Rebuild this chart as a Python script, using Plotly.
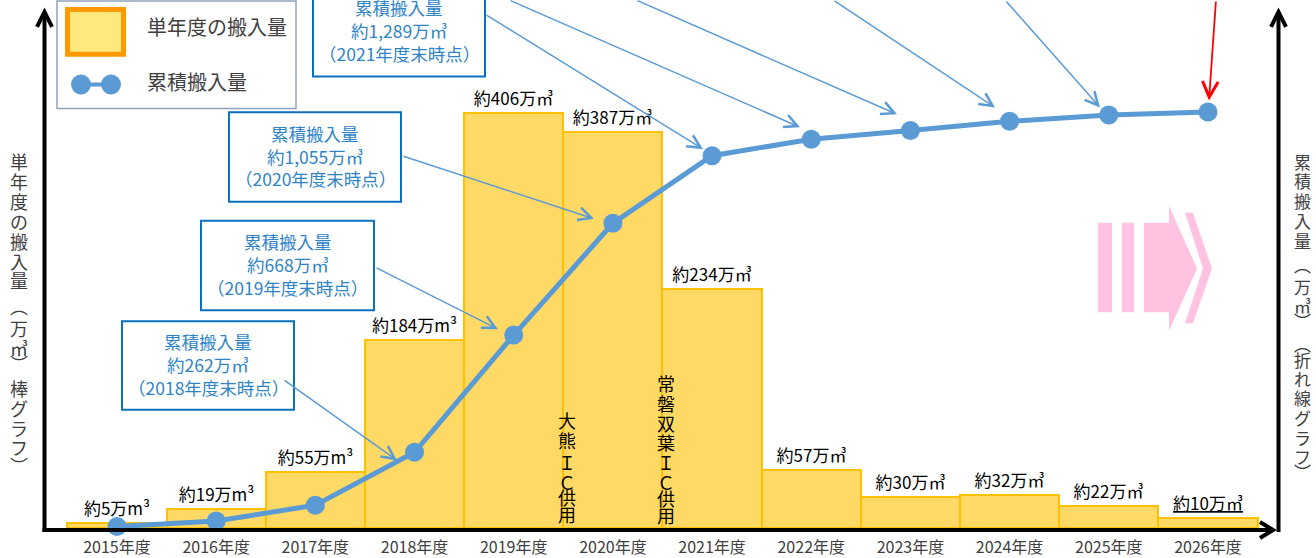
import plotly.graph_objects as go

# ---------------- data ----------------
years = ["2015年度", "2016年度", "2017年度", "2018年度", "2019年度", "2020年度",
         "2021年度", "2022年度", "2023年度", "2024年度", "2025年度", "2026年度"]
annual = [5, 19, 55, 184, 406, 387, 234, 57, 30, 32, 22, 10]
cumulative = [5, 24, 79, 262, 668, 1055, 1289, 1346, 1376, 1408, 1430, 1440]
bar_labels = ["約5万m³", "約19万m³", "約55万m³", "約184万m³", "約406万㎥", "約387万㎥",
              "約234万㎥", "約57万㎥", "約30万㎥", "約32万㎥", "約22万㎥", "<u>約10万㎥</u>"]
box_values = ["約262万㎥", "約668万㎥", "約1,055万㎥", "約1,289万㎥"]
box_years = ["2018", "2019", "2020", "2021"]
legend_bar = "単年度の搬入量"
legend_line = "累積搬入量"
left_title = list("単年度の搬入量") + ["︵", "万", "㎥", "︶", "棒", "グ", "ラ", "フ", "︶"]
right_title = list("累積搬入量") + ["︵", "万", "㎥", "︶", "︵", "折", "れ", "線", "グ", "ラ", "フ", "︶"]
ic1 = list("大熊ＩＣ供用")
ic2 = list("常磐双葉ＩＣ供用")

FONT = "Noto Sans CJK JP"
W, H = 1316, 558
L, R, T, B = 44, 38, 0, 27
PW, PH = W - L - R, H - T - B


def px(x):
    return (x - L) / PW


def py(y):
    return (H - B - y) / PH


fig = go.Figure()
fig.add_trace(go.Bar(
    x=years, y=annual, text=bar_labels, textposition="outside",
    textfont=dict(size=17, color="black", family=FONT), cliponaxis=False,
    constraintext="none",
    marker=dict(color="#FFD966", line=dict(color="#FFC000", width=2)),
))
fig.add_trace(go.Scatter(
    x=years, y=cumulative, yaxis="y2", mode="lines+markers",
    line=dict(color="#5B9BD5", width=5),
    marker=dict(color="#5B9BD5", size=19), cliponaxis=False,
))

shapes = []
annotations = []


def rect(x0, y0, x1, y1, fill, line, lw):
    shapes.append(dict(type="rect", xref="paper", yref="paper",
                       x0=px(x0), x1=px(x1), y0=py(y1), y1=py(y0),
                       fillcolor=fill, line=dict(color=line, width=lw)))


def poly(points, color=None, fill=None, lw=4, closed=False):
    d = "M " + " L ".join(f"{px(a):.5f},{py(b):.5f}" for a, b in points)
    if closed:
        d += " Z"
    shapes.append(dict(type="path", xref="paper", yref="paper", path=d,
                       fillcolor=fill if fill else "rgba(0,0,0,0)",
                       line=dict(color=color if color else "rgba(0,0,0,0)", width=lw if color else 0)))


def text(x, y, s, size, color, xanchor="center"):
    annotations.append(dict(x=px(x), y=py(y), xref="paper", yref="paper", text=s,
                            showarrow=False, xanchor=xanchor, yanchor="middle",
                            font=dict(size=size, color=color, family=FONT)))


def arrow(tail, tip, color="#5B9BD5", width=1.5):
    annotations.append(dict(x=px(tip[0]), y=py(tip[1]), xref="paper", yref="paper",
                            ax=tail[0] - tip[0], ay=tail[1] - tip[1], text="",
                            showarrow=True, arrowhead=5, arrowsize=1.7,
                            arrowwidth=width, arrowcolor=color, standoff=0))


# axes with arrows
poly([(44.5, 535), (44.5, 12)], color="black", lw=4)
poly([(37, 27), (44.5, 12), (52, 27)], color="black", lw=4)
poly([(42.5, 533), (1272, 533)], color="black", lw=4)
poly([(1260, 525), (1273, 533), (1260, 541)], color="black", lw=4)
poly([(1278.5, 535), (1278.5, 12)], color="black", lw=4)
poly([(1271, 27), (1278.5, 12), (1286, 27)], color="black", lw=4)

# pink progress arrow
pink = "#FFC3E1"
rect(1098, 224, 1112, 314, pink, pink, 0)
rect(1122, 224, 1134, 314, pink, pink, 0)
poly([(1144, 224), (1169, 224), (1169, 207), (1197, 270), (1169, 333), (1169, 314), (1144, 314)],
     fill=pink, closed=True)
poly([(1185, 214), (1193, 214), (1212, 270), (1193, 325), (1185, 325), (1203, 270)],
     fill=pink, closed=True)

# legend
rect(57, 1, 296, 109, "white", "#8EA2BC", 1.5)
rect(67.5, 9.5, 123.5, 54.5, "#FFE97F", "#FF9900", 5)
poly([(81, 85), (111, 85)], color="#5B9BD5", lw=4)
for cx in (81, 111):
    shapes.append(dict(type="circle", xref="paper", yref="paper",
                       x0=px(cx - 10), x1=px(cx + 10), y0=py(95), y1=py(75),
                       fillcolor="#5B9BD5", line=dict(width=0)))
text(145, 27, legend_bar, 20, "#404040", xanchor="left")
text(145, 82, legend_line, 20, "#404040", xanchor="left")

# callout boxes
boxes = [(122, 323, 294, 412), (201, 222, 374, 312), (229, 113, 401, 203), (313, -13, 485, 77)]
for (x0, y0, x1, y1), val, yr in zip(boxes, box_values, box_years):
    rect(x0, y0, x1, y1, "white", "#0B70BF", 2)
    cx, cy = (x0 + x1) / 2, (y0 + y1) / 2
    text(cx, cy - 24, "累積搬入量", 17.5, "#2E84C6")
    text(cx, cy - 1, val, 17.5, "#2E84C6")
    text(cx, cy + 22, f"（{yr}年度末時点）", 17.5, "#2E84C6")

# callout arrows
arrow((283, 382), (397, 463))
arrow((375, 269), (498, 331))
arrow((402, 157), (594, 220))
arrow((485, 15), (703, 150))
arrow((509, -10), (800, 128))
arrow((636, -10), (897, 115))
arrow((833, -10), (995, 108))
arrow((1005, -10), (1100, 108))
arrow((1216, -10), (1209, 101), color="#FF0000", width=1.8)

# vertical texts
left_y = [162, 182, 202, 222, 242, 262, 282, 308, 330, 350, 365, 390, 410, 430, 450, 468]
for ch, yy in zip(left_title, left_y):
    text(19, yy, ch, 18, "#404040")
right_y = [162, 182, 202, 222, 242, 266, 288, 307, 322, 345, 362, 381, 400, 420, 440, 459, 474]
for ch, yy in zip(right_title, right_y):
    text(1302, yy, ch, 17, "#404040")
for ch, yy in zip(ic1, [422, 443, 465, 485, 500, 517]):
    text(567, yy, ch, 18, "black")
for ch, yy in zip(ic2, [385, 405, 425, 445, 465, 485, 501, 518]):
    text(666, yy, ch, 18, "black")

step = 99.18
fig.update_layout(
    width=W, height=H, margin=dict(l=L, r=R, t=T, b=B, pad=0),
    paper_bgcolor="white", plot_bgcolor="white", showlegend=False, bargap=0,
    font=dict(family=FONT),
    xaxis=dict(range=[(L - 117) / step, (W - R - 117) / step], showline=False, showgrid=False,
               zeroline=False, ticks="", tickfont=dict(size=16, color="#404040", family=FONT),
               ticklabelstandoff=8, fixedrange=True),
    yaxis=dict(range=[0, PH / 1.028], visible=False, showgrid=False, zeroline=False),
    yaxis2=dict(range=[0, PH / 0.2905], overlaying="y", visible=False, showgrid=False, zeroline=False),
    shapes=shapes, annotations=annotations,
)
fig.write_html("out.html", config={"displayModeBar": False},
               post_script="document.body.style.margin='0px';document.body.style.overflow='hidden';")
